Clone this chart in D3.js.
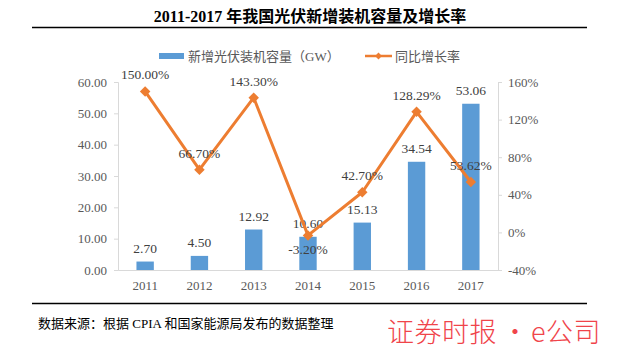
<!DOCTYPE html>
<html>
<head>
<meta charset="UTF-8" />
<script src="https://d3js.org/d3.v7.min.js"></script>
<title>光伏新增装机</title>
<style>
  body { margin: 0; background: #fff; }
  svg text { font-family: "Liberation Serif", "Noto Sans CJK SC", serif; }
</style>
</head>
<body>
<script type="text/javascript">

// data
var years = ["2011", "2012", "2013", "2014", "2015", "2016", "2017"];
var capacity = [2.70, 4.50, 12.92, 10.60, 15.13, 34.54, 53.06];   // GW
var growth = [150.00, 66.70, 143.30, -3.20, 42.70, 128.29, 53.62]; // %
var leftTicks = [0, 10, 20, 30, 40, 50, 60];
var rightTicks = [-40, 0, 40, 80, 120, 160];

var W = 618, H = 359;
var plot = {left: 118, right: 498, top: 82, bottom: 270};

var svg = d3.select("body").append("svg")
    .attr("width", W)
    .attr("height", H);

// scales
var x = d3.scaleBand().domain(years)
    .range([plot.left, plot.right])
    .paddingInner(0.68).paddingOuter(0.34);
var y = d3.scaleLinear().domain([0, 60]).range([plot.bottom, plot.top]);
var y2 = d3.scaleLinear().domain([-40, 160]).range([plot.bottom, plot.top]);

//title + rules
svg.append("text")
    .attr("x", 310).attr("y", 22)
    .attr("text-anchor", "middle")
    .style("font-size", "16px").style("font-weight", "bold").style("fill", "#000")
    .text("2011-2017 年我国光伏新增装机容量及增长率");
svg.append("line").attr("x1", 32).attr("x2", 587).attr("y1", 27.5).attr("y2", 27.5)
    .style("stroke", "#000").style("stroke-width", 1.3);
svg.append("line").attr("x1", 32).attr("x2", 587).attr("y1", 303.5).attr("y2", 303.5)
    .style("stroke", "#000").style("stroke-width", 1.3);

// legend
var lg = svg.append("g").attr("class", "legend");
lg.append("rect").attr("x", 159).attr("y", 53).attr("width", 25).attr("height", 6)
    .style("fill", "#5B9BD5");
lg.append("text").attr("x", 188).attr("y", 60.5)
    .style("font-size", "13px").style("fill", "#595959")
    .text("新增光伏装机容量（GW）");
lg.append("line").attr("x1", 365).attr("x2", 392).attr("y1", 56).attr("y2", 56)
    .style("stroke", "#ED7D31").style("stroke-width", 2.5);
lg.append("path").attr("d", d3.symbol().type(d3.symbolDiamond2).size(30)())
    .attr("transform", "translate(378.5,56)").style("fill", "#ED7D31");
lg.append("text").attr("x", 395).attr("y", 60.5)
    .style("font-size", "13px").style("fill", "#595959")
    .text("同比增长率");

// axes
var yAxis = svg.append("g")
    .attr("transform", "translate(" + plot.left + ",0)")
    .call(d3.axisLeft(y).tickValues(leftTicks).tickSize(4).tickPadding(7)
        .tickFormat(d3.format(".2f")));
var y2Axis = svg.append("g")
    .attr("transform", "translate(" + plot.right + ",0)")
    .call(d3.axisRight(y2).tickValues(rightTicks).tickSize(4).tickPadding(6)
        .tickFormat(function(d) { return d + "%"; }));
var xAxis = svg.append("g")
    .attr("transform", "translate(0," + plot.bottom + ")")
    .call(d3.axisBottom(x).tickSize(0).tickPadding(11));

[yAxis, y2Axis, xAxis].forEach(function(a) {
  a.select(".domain").style("stroke", "#d9d9d9");
  a.selectAll(".tick line").style("stroke", "#d9d9d9");
  a.selectAll(".tick text").style("font-size", "13px").style("fill", "#595959")
      .style("font-family", "Liberation Serif");
});

// bars
var bars = svg.append("g");
bars.selectAll("rect")
    .data(capacity)
    .enter().append("rect")
    .style("fill", "#5B9BD5")
    .attr("x", function(d, i) { return x(years[i]); })
    .attr("width", x.bandwidth())
    .attr("y", function(d) { return y(d); })
    .attr("height", function(d) { return plot.bottom - y(d); });

bars.selectAll("text")
    .data(capacity)
    .enter().append("text")
    .attr("x", function(d, i) { return x(years[i]) + x.bandwidth() / 2; })
    .attr("y", function(d) { return y(d) - 9; })
    .attr("text-anchor", "middle")
    .style("font-size", "13.5px").style("fill", "#404040")
    .text(function(d) { return d.toFixed(2); });

// growth line
var line = d3.line()
    .x(function(d, i) { return x(years[i]) + x.bandwidth() / 2; })
    .y(function(d) { return y2(d); });

svg.append("path")
    .datum(growth)
    .attr("d", line)
    .style("fill", "none")
    .style("stroke", "#ED7D31")
    .style("stroke-width", 3)
    .style("stroke-linejoin", "round");

svg.append("g").selectAll("path")
    .data(growth)
    .enter().append("path")
    .attr("d", d3.symbol().type(d3.symbolDiamond2).size(70)())
    .attr("transform", function(d, i) {
      return "translate(" + (x(years[i]) + x.bandwidth() / 2) + "," + y2(d) + ")";
    })
    .style("fill", "#ED7D31");

svg.append("g").selectAll("text")
    .data(growth)
    .enter().append("text")
    .attr("x", function(d, i) { return x(years[i]) + x.bandwidth() / 2; })
    .attr("y", function(d) { return d < 0 ? y2(d) + 19 : y2(d) - 12; })
    .attr("text-anchor", "middle")
    .style("font-size", "13.5px").style("fill", "#404040")
    .text(function(d) { return d.toFixed(2) + "%"; });

// source + watermark
svg.append("text").attr("x", 38).attr("y", 328)
    .style("font-size", "13px").style("fill", "#000")
    .text("数据来源：根据 CPIA 和国家能源局发布的数据整理");

var wm = svg.append("text").attr("y", 342)
    .style("font-family", "Noto Sans CJK SC").style("font-weight", 300)
    .style("font-size", "27px").style("fill", "#F0444A");
wm.append("tspan").attr("x", 387).style("letter-spacing", "0.5px").text("证券时报");
wm.append("tspan").attr("x", 515).attr("text-anchor", "middle").text("•");
wm.append("tspan").attr("x", 531).style("letter-spacing", "0.5px").text("e公司");

</script>
</body>
</html>
